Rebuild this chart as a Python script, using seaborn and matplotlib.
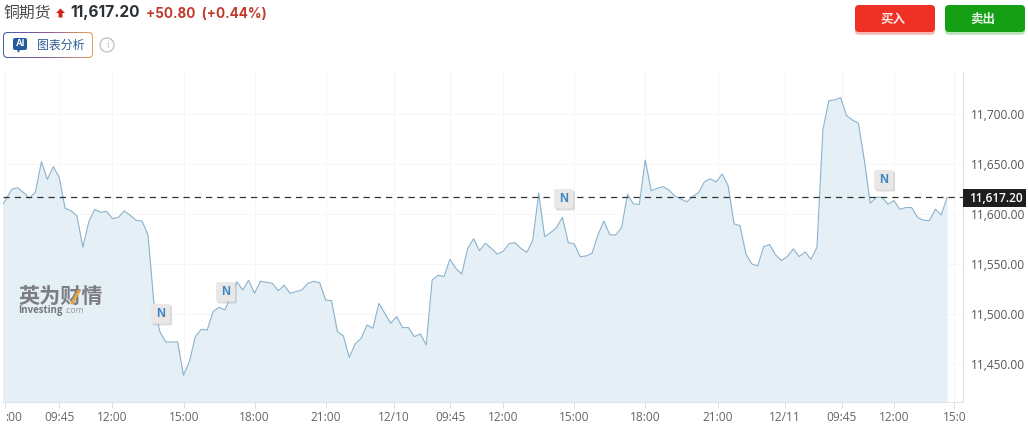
import matplotlib
matplotlib.use("Agg")
import matplotlib.pyplot as plt
import matplotlib.patheffects as pe
from matplotlib.patches import FancyBboxPatch, Circle, Polygon
from matplotlib.colors import LinearSegmentedColormap
import numpy as np
import pandas as pd
import seaborn as sns

prices = [
    11605.0, 11615.0, 11624.9, 11626.5, 11621.5, 11616.0, 11622.5, 11652.6, 11634.9, 11647.6,
    11636.9, 11605.8, 11603.5, 11598.2, 11566.8, 11592.5, 11604.8, 11601.8, 11602.8, 11595.5,
    11596.8, 11603.2, 11598.8, 11593.8, 11593.1, 11579.1, 11510.6, 11482.2, 11471.9, 11471.9,
    11471.9, 11438.5, 11452.2, 11477.2, 11484.6, 11483.9, 11502.3, 11506.6, 11504.0, 11518.0,
    11532.3, 11524.0, 11533.7, 11520.7, 11532.7, 11531.7, 11530.7, 11523.3, 11528.7, 11520.7,
    11522.3, 11524.0, 11530.7, 11532.7, 11531.3, 11514.0, 11513.3, 11482.2, 11477.9, 11456.5,
    11469.9, 11475.6, 11488.9, 11485.6, 11510.6, 11500.6, 11490.6, 11497.3, 11486.3, 11486.3,
    11477.2, 11479.9, 11468.9, 11534.0, 11538.7, 11537.4, 11554.7, 11545.7, 11540.0, 11565.7,
    11575.4, 11563.4, 11570.8, 11565.7, 11560.0, 11562.7, 11570.4, 11571.4, 11565.7, 11561.7,
    11574.1, 11620.9, 11577.4, 11581.4, 11586.5, 11596.8, 11571.4, 11570.1, 11557.4, 11558.1,
    11560.7, 11579.1, 11593.1, 11579.4, 11579.1, 11586.5, 11619.9, 11610.2, 11609.8, 11654.3,
    11623.5, 11625.9, 11627.5, 11624.2, 11618.2, 11615.3, 11612.3, 11617.6, 11621.6, 11632.6,
    11635.3, 11632.3, 11640.3, 11628.3, 11590.2, 11588.5, 11560.2, 11550.1, 11548.1, 11567.5,
    11569.5, 11559.2, 11553.5, 11557.5, 11565.2, 11557.5, 11562.2, 11554.8, 11566.8, 11684.4,
    11713.8, 11714.5, 11716.8, 11698.8, 11694.4, 11691.1, 11654.3, 11610.9, 11616.9, 11616.9,
    11609.9, 11613.6, 11604.9, 11606.6, 11606.6, 11596.6, 11593.9, 11593.5, 11604.9, 11599.2,
    11617.2,
]
bar_index = list(range(len(prices)))
x_tick_pos = [0.9, 10.05, 18.97, 31.03, 43.02, 55.02, 66.6, 76.06, 85.02, 97.0, 109.0, 121.2, 132.65, 142.2, 151.05, 161.2]
x_tick_labels = [":00", "09:45", "12:00", "15:00", "18:00", "21:00", "12/10", "09:45", "12:00", "15:00", "18:00", "21:00", "12/11", "09:45", "12:00", "15:0"]
y_ticks = [11450, 11500, 11550, 11600, 11650, 11700]
last_price = 11617.20

CJK = ["Noto Sans CJK SC", "DejaVu Sans"]
W, H = 1028, 426
sns.set_theme(style="white")
plt.rcParams["font.family"] = ["Open Sans", "Noto Sans CJK SC", "DejaVu Sans"]

fig = plt.figure(figsize=(W / 100, H / 100), dpi=100, facecolor="white")
ax = fig.add_axes([3 / W, 1 - 401.7 / H, 960 / W, (401.7 - 72) / H])
df = pd.DataFrame({"bar": bar_index, "price": prices})
y0 = 11412
ax.fill_between(df["bar"], df["price"], y0, color="#e4eff6", lw=0, zorder=1)
sns.lineplot(data=df, x="bar", y="price", ax=ax, color="#8ab2ce", lw=0.8, zorder=3, errorbar=None)
ax.axhline(last_price, color="#333333", lw=0.9, dashes=(5, 4), zorder=4)
ax.set_xlim(3 / 5.92, 963 / 5.92)
ax.set_ylim(y0, 11742.5)
ax.set_xlabel("")
ax.set_ylabel("")
ax.set_xticks(x_tick_pos)
ax.set_xticklabels(x_tick_labels)
ax.get_xticklabels()[0].set_ha("left")
ax.set_yticks(y_ticks)
ax.set_yticklabels([f"{v:,.2f}" for v in y_ticks])
ax.yaxis.tick_right()
ax.grid(True, color="#f6f6f6", lw=0.7, zorder=0)
ax.set_axisbelow(True)
ax.tick_params(axis="x", length=4, width=0.7, color="#dddddd", labelsize=8.6, labelcolor="#666666", pad=3, bottom=True)
ax.tick_params(axis="y", length=0, labelsize=8.6, labelcolor="#555555", pad=6, right=False)
ax.get_xticklabels()[0].set_x(0.0)
for s in ("top", "left"):
    ax.spines[s].set_visible(False)
for s in ("right", "bottom"):
    ax.spines[s].set_color("#e4e4e4")
    ax.spines[s].set_linewidth(0.8)

ov = fig.add_axes([0, 0, 1, 1], facecolor="none")
ov.set_xlim(0, W)
ov.set_ylim(H, 0)
ov.axis("off")
ov.set_zorder(5)

def box(x0, y0_, x1, y1, fc, ec="none", r=3, lw=0.8, z=2, **kw):
    p = FancyBboxPatch((x0, y0_), x1 - x0, y1 - y0_, boxstyle=f"round,pad=0,rounding_size={r}",
                       fc=fc, ec=ec, lw=lw, zorder=z, **kw)
    ov.add_patch(p)
    return p

# title row
ov.text(3, 13, "铜期货", family=CJK, fontsize=11.4, color="#4a4a4a", va="center", ha="left")
ov.add_patch(Polygon([(56, 13), (60.5, 8.5), (65, 13), (62.5, 13), (62.5, 17.5), (58.5, 17.5), (58.5, 13)], fc="#d0261c", ec="none"))
ov.text(70, 13, "11,617.20", family="Inter", fontsize=11.1, fontweight="bold", color="#2a3036", va="center", ha="left")
ov.text(146, 14, "+50.80  (+0.44%)", family="Inter", fontsize=9.7, fontweight="bold", color="#c0392b", va="center", ha="left")

# AI button: gradient border made from a clipped gradient under a white inset
cmap = LinearSegmentedColormap.from_list("btn", ["#4a5aa8", "#8a5f9a", "#e8a35a"])
border = box(3, 32, 93, 58, "none", r=4.5, z=2)
grad = np.linspace(0, 1, 128).reshape(1, -1)
im = ov.imshow(grad, extent=(3, 93, 58, 32), cmap=cmap, aspect="auto", zorder=2, interpolation="bilinear")
im.set_clip_path(border)
ov.set_xlim(0, W)
ov.set_ylim(H, 0)
box(4, 33, 92, 57, "white", r=3.8, z=3)
box(13, 38, 27, 50, "#245a9e", r=2, z=4)
ov.add_patch(Polygon([(17, 49), (21, 49), (18, 53)], fc="#245a9e", ec="none", zorder=4))
ov.text(20, 44, "AI", family="Inter", fontsize=6.5, fontweight="bold", color="white", ha="center", va="center", zorder=5)
ov.text(60.5, 45, "图表分析", family=CJK, fontsize=8.6, fontweight="medium", color="#2f5f92", ha="center", va="center", zorder=5)
ov.add_patch(Circle((107, 45), 7, fc="white", ec="#c4c4c4", lw=1))
ov.text(107, 45, "i", fontsize=7, color="#b8b8b8", ha="center", va="center")

# buy/sell buttons
box(855, 5, 935, 32, "#ee3124", r=4, path_effects=[pe.withSimplePatchShadow(offset=(0, -2), shadow_rgbFace="#f09a94", alpha=0.7)])
box(945, 5, 1025, 32, "#159f14", r=4, path_effects=[pe.withSimplePatchShadow(offset=(0, -2), shadow_rgbFace="#9ad89a", alpha=0.7)])
ov.text(893, 19, "买入", family=CJK, fontsize=9, fontweight="bold", color="#fbe6e3", ha="center", va="center", zorder=4)
ov.text(983, 19, "卖出", family=CJK, fontsize=9, fontweight="bold", color="#e8f6e8", ha="center", va="center", zorder=4)

# last-price tag
ov.add_patch(plt.Rectangle((963, 189), 63, 18, fc="#1e1e1e", ec="none", zorder=3))
ov.text(1023, 198, f"{last_price:,.2f}", fontsize=8.6, fontweight="semibold", color="white", ha="right", va="center", zorder=4)

# news badges
for bx, by in [(161, 314), (226, 292), (564, 199), (884, 180)]:
    box(bx - 8.5, by - 8.5, bx + 11, by + 11.5, "#b0b0b0", r=2, z=5, alpha=0.45)
    box(bx - 10, by - 10, bx + 9, by + 9.5, "#e9e8e6", r=2, z=6)
    ov.text(bx - 0.5, by, "N", family="Liberation Sans", fontsize=8.8, fontweight="bold", color="#3b86c6", ha="center", va="center", zorder=7)

# watermark
ov.text(18, 296, "英为财情", family=CJK, fontsize=15.2, fontweight="black", color="#77777c", ha="left", va="center", alpha=0.95, zorder=4)
ov.plot([72, 79], [303, 291], color="#e8a33d", lw=2.2, zorder=5, solid_capstyle="round")
ov.text(18, 310, "Investing", family="Open Sans", fontsize=6.9, fontweight="bold", color="#77777c", ha="left", va="center", zorder=4)
ov.text(64, 310.5, ".com", family="Open Sans", fontsize=6.2, color="#9a9a9f", ha="left", va="center", zorder=4)

fig.savefig("out.png", dpi=100, facecolor="white")
